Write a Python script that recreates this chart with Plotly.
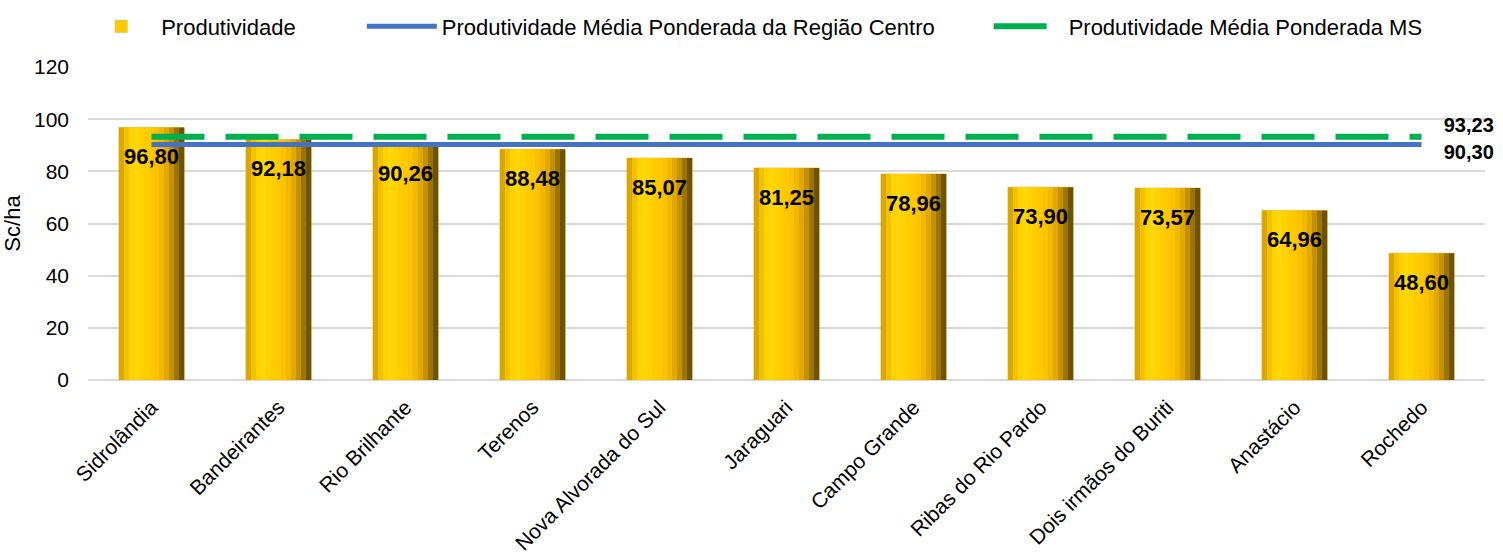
import plotly.graph_objects as go

categories = ["Sidrolândia", "Bandeirantes", "Rio Brilhante", "Terenos", "Nova Alvorada do Sul",
              "Jaraguari", "Campo Grande", "Ribas do Rio Pardo", "Dois irmãos do Buriti",
              "Anastácio", "Rochedo"]
produtividade = [96.80, 92.18, 90.26, 88.48, 85.07, 81.25, 78.96, 73.90, 73.57, 64.96, 48.60]
media_centro = 90.30
media_ms = 93.23
y_ticks = [0, 20, 40, 60, 80, 100, 120]

FONT = "Liberation Sans"
NB = "\u00a0"

def br(v):
    return f"{v:.2f}".replace(".", ",")

fig = go.Figure()

W = 0.512
grad = ["#D9A800", "#F2C200", "#FFD200", "#FFD70A", "#FFD200", "#FFCC00", "#FFC800",
        "#FBC200", "#F2B800", "#E0A800", "#C49200", "#9C7400", "#6E5200"]
N = len(grad)
fig.add_trace(go.Bar(x=categories, y=produtividade, name="Produtividade" + NB * 10,
                     width=W, marker=dict(color="#FFC800", line=dict(color="#E8C44A", width=1)),
                     hoverinfo="skip"))
for i, c in enumerate(grad):
    fig.add_trace(go.Bar(x=categories, y=produtividade, width=W / N + 0.002,
                         offset=-W / 2 + i * W / N, marker=dict(color=c, line=dict(width=0)),
                         showlegend=False, hoverinfo="skip"))

fig.add_trace(go.Scatter(x=categories, y=[media_centro] * len(categories), mode="lines+text",
                         name="Produtividade Média Ponderada da Região Centro" + NB * 8,
                         line=dict(color="#4472C4", width=5),
                         text=[""] * (len(categories) - 1) + [NB * 4 + br(media_centro)],
                         textposition="bottom right",
                         textfont=dict(family=FONT, size=20, color="#000000", weight="bold"),
                         cliponaxis=False))
fig.add_trace(go.Scatter(x=categories, y=[media_ms] * len(categories), mode="lines+text",
                         name="Produtividade Média Ponderada MS",
                         line=dict(color="#00B050", width=6, dash="53px,21px"),
                         text=[""] * (len(categories) - 1) + [NB * 4 + br(media_ms)],
                         textposition="top right",
                         textfont=dict(family=FONT, size=20, color="#000000", weight="bold"),
                         cliponaxis=False))

fig.add_trace(go.Scatter(x=categories, y=produtividade, mode="text", yaxis="y2",
                         text=[br(v) for v in produtividade], textposition="middle center",
                         textfont=dict(family=FONT, size=22, color="#000000", weight="bold"),
                         showlegend=False, hoverinfo="skip", cliponaxis=False))

fig.update_layout(
    width=1503, height=556,
    barmode="overlay",
    plot_bgcolor="white", paper_bgcolor="white",
    margin=dict(l=88, r=18, t=67, b=176, autoexpand=False),
    font=dict(family=FONT, size=21, color="#000000"),
    showlegend=True,
    legend=dict(orientation="h", xref="container", x=0.054, xanchor="left",
                yref="container", y=0.99, yanchor="top", itemwidth=70,
                font=dict(family=FONT, size=22, color="#000000"),
                bgcolor="rgba(0,0,0,0)", traceorder="normal"),
    xaxis=dict(type="category", tickangle=-45, tickfont=dict(size=21, color="#000000"),
               showgrid=False, showline=False, ticks="", ticklabelstandoff=10,
               range=[-0.5, len(categories) - 0.5]),
    yaxis=dict(range=[0, 120], tickvals=y_ticks, showgrid=True, gridcolor="#D9D9D9", gridwidth=1.5,
               zeroline=True, zerolinecolor="#D9D9D9", zerolinewidth=1.5,
               tickfont=dict(size=21, color="#000000"), ticks="", ticklen=0, ticklabelstandoff=18,
               title=dict(text="Sc/ha", font=dict(size=22, color="#000000"), standoff=10)),
    yaxis2=dict(overlaying="y", range=[12, 132], visible=False),
)

fig.write_html("out.html", config={"displayModeBar": False},
               post_script="document.body.style.margin='0px';")
